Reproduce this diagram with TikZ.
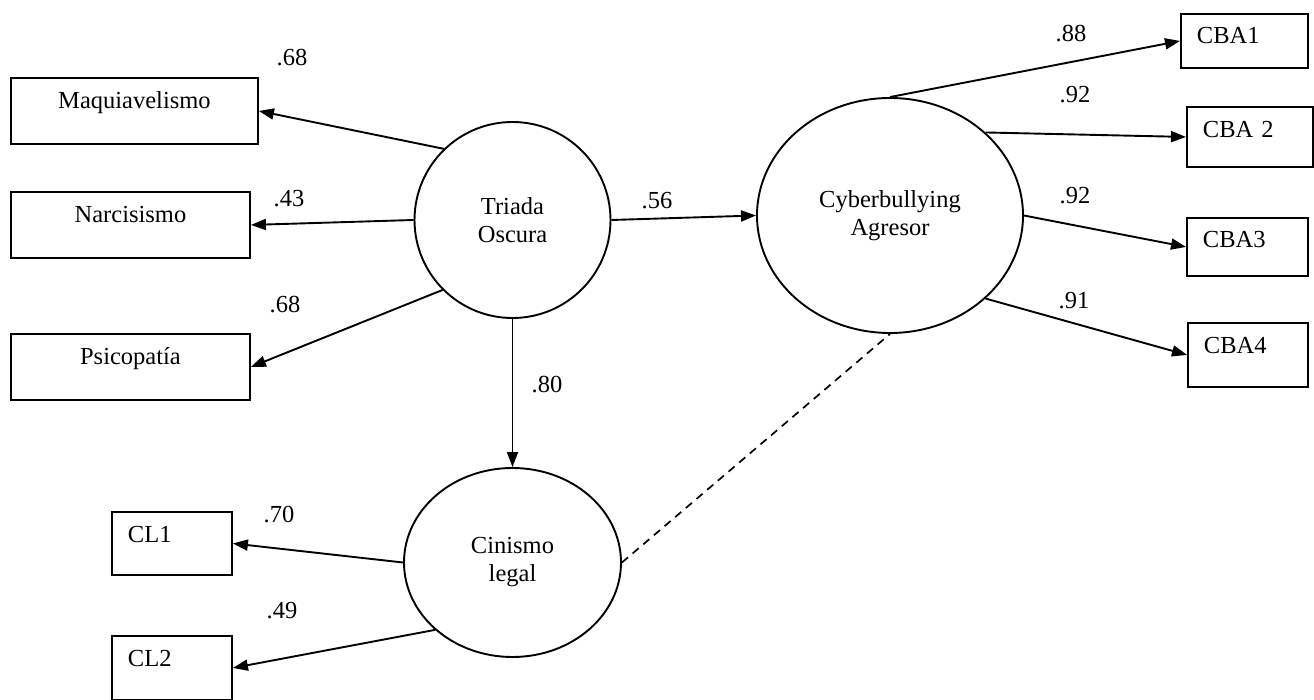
\documentclass[tikz,border=0pt]{standalone}
\usepackage{fontspec}
\setmainfont{Liberation Serif}
\usetikzlibrary{arrows.meta,shapes.geometric}
\begin{document}
\begin{tikzpicture}[x=1pt,y=-1pt,
  every node/.style={font=\fontsize{24.5}{28}\selectfont},
  obs/.style={draw,line width=1.9pt,anchor=north west,inner ysep=0pt},
  ctrbox/.style={obs,inner xsep=0pt,align=center},
  lftbox/.style={obs,inner xsep=16pt,align=left},
  lat/.style={draw,line width=1.9pt,ellipse,inner sep=0pt,align=center},
  conn/.style={line width=1.9pt,-{Triangle[length=15pt,width=11pt]}},
  lab/.style={anchor=base,inner sep=0pt}
]
\useasboundingbox (0,0) rectangle (1314,700);

% observed variables (left)
\node[ctrbox,text width=247pt,text height=31pt,text depth=35pt] (maq) at (10,77) {Maquiavelismo};
\node[ctrbox,text width=239pt,text height=31pt,text depth=35pt] (nar) at (10,191) {Narcisismo};
\node[ctrbox,text width=239pt,text height=31pt,text depth=35pt] (psi) at (10,333) {Psicopatía};

% observed variables (right)
\node[lftbox,text width=95pt,text height=30pt,text depth=24pt] (cba1) at (1180,13) {CBA1};
\node[lftbox,text width=94pt,text height=31pt,text depth=29pt] (cba2) at (1186,106) {CBA 2};
\node[lftbox,text width=89pt,text height=30pt,text depth=28pt] (cba3) at (1186,217) {CBA3};
\node[lftbox,text width=88pt,text height=31pt,text depth=33pt] (cba4) at (1187,322) {CBA4};

% observed variables (bottom left)
\node[lftbox,text width=88pt,text height=31pt,text depth=32pt] (cl1) at (111,511) {CL1};
\node[lftbox,text width=88pt,text height=31pt,text depth=33pt] (cl2) at (111,635) {CL2};

% latent variables
\node[lat,circle,minimum size=196pt] (tri) at (512.5,220) {Triada\\Oscura};
\node[lat,minimum width=266pt,minimum height=235pt] (cyb) at (890,215.5) {Cyberbullying\\Agresor};
\node[lat,minimum width=217pt,minimum height=189pt] (cin) at (512.5,562.5) {Cinismo\\legal};

% connectors
\draw[conn] (tri.134.8) -- (maq.east);
\draw[conn] (tri.west) -- (nar.east);
\draw[conn] (tri.225.6) -- (psi.east);
\draw[conn] (tri.east) -- (cyb.west);
\draw[conn] (tri.south) -- (cin.north);
\draw[conn] (cyb.north) -- (cba1.west);
\draw[conn] (cyb.41.6) -- (cba2.west);
\draw[conn] (cyb.east) -- (cba3.west);
\draw[conn] (cyb.-41.9) -- (cba4.west);
\draw[conn] (cin.west) -- (cl1.east);
\draw[conn] (cin.221) -- (cl2.east);
\draw[line width=1.7pt,dash pattern=on 8pt off 6pt] (cin.east) -- (cyb.south);

% loadings
\node[lab] (w1) at (292,66) {.68};
\node[lab] (w2) at (289,207) {.43};
\node[lab] (w3) at (285,313) {.68};
\node[lab] (w4) at (657,209) {.56};
\node[lab] (w5) at (547,392) {.80};
\node[lab] (w6) at (1071,42) {.88};
\node[lab] (w7) at (1075,103) {.92};
\node[lab] (w8) at (1075,204) {.92};
\node[lab] (w9) at (1074,309) {.91};
\node[lab] (w10) at (279,522) {.70};
\node[lab] (w11) at (282,618) {.49};
\end{tikzpicture}
\end{document}
